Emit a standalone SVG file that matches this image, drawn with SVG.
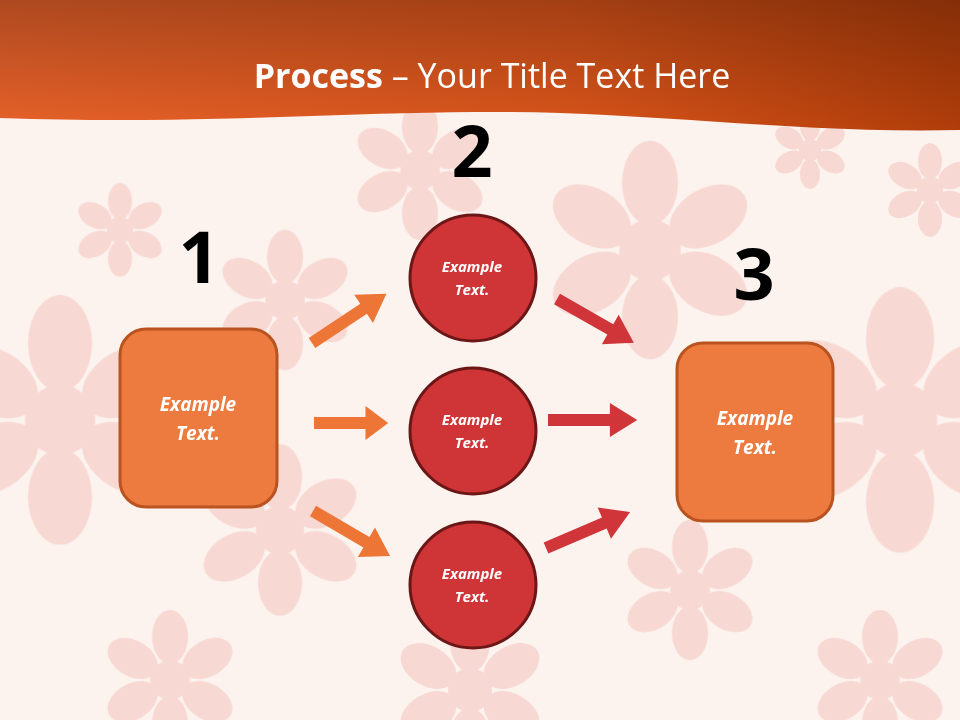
<svg xmlns="http://www.w3.org/2000/svg" xmlns:xlink="http://www.w3.org/1999/xlink" width="960" height="720" viewBox="0 0 960 720">
<style>
.box{fill:#ed7a3e;stroke:#b9531f;stroke-width:3}
.cir{fill:#cf3436;stroke:#6b1717;stroke-width:3}
.lbl{font-family:"Open Sans","Liberation Sans",sans-serif;font-weight:bold;font-style:italic;fill:#fff;text-anchor:middle}
.num{font-family:"Open Sans","Liberation Sans",sans-serif;font-weight:bold;font-size:72px;fill:#000;text-anchor:middle}
.fl{fill:#f3b3ab;opacity:0.42}
</style>
<defs>
<linearGradient id="hdr" x1="0" y1="0" x2="1" y2="0">
<stop offset="0" stop-color="#e8622a"/><stop offset="0.6" stop-color="#d9541a"/><stop offset="1" stop-color="#b03d0a"/>
</linearGradient>
<linearGradient id="hdrv" x1="0" y1="0" x2="0" y2="1">
<stop offset="0" stop-color="#000" stop-opacity="0.25"/><stop offset="1" stop-color="#000" stop-opacity="0"/>
</linearGradient>
<path id="arr" d="M0,-6 L52,-6 L52,-17 L75,0 L52,17 L52,6 L0,6 Z"/>
<g id="flw">
<circle r="22"/>
<g id="pet"><ellipse cx="0" cy="-48" rx="20" ry="30"/></g>
<use xlink:href="#pet" transform="rotate(60)"/><use xlink:href="#pet" transform="rotate(120)"/>
<use xlink:href="#pet" transform="rotate(180)"/><use xlink:href="#pet" transform="rotate(240)"/>
<use xlink:href="#pet" transform="rotate(300)"/>
</g>
</defs>
<rect width="960" height="720" fill="#fcf3ef"/>
<g class="fl">
<use xlink:href="#flw" transform="translate(60,420) scale(1.6)"/>
<use xlink:href="#flw" transform="translate(285,300) scale(0.9)"/>
<use xlink:href="#flw" transform="translate(120,230) scale(0.6)"/>
<use xlink:href="#flw" transform="translate(650,250) scale(1.4)"/>
<use xlink:href="#flw" transform="translate(810,150) scale(0.5)"/>
<use xlink:href="#flw" transform="translate(930,190) scale(0.6)"/>
<use xlink:href="#flw" transform="translate(900,420) scale(1.7)"/>
<use xlink:href="#flw" transform="translate(690,590) scale(0.9)"/>
<use xlink:href="#flw" transform="translate(280,530) scale(1.1)"/>
<use xlink:href="#flw" transform="translate(170,680) scale(0.9)"/>
<use xlink:href="#flw" transform="translate(470,690) scale(1.0)"/>
<use xlink:href="#flw" transform="translate(880,680) scale(0.9)"/>
<use xlink:href="#flw" transform="translate(420,170) scale(0.9)"/>
</g>
<path d="M0,0 H960 V130 C800,134 650,112 500,112 C330,112 200,125 0,118 Z" fill="url(#hdr)"/>
<path d="M0,0 H960 V130 C800,134 650,112 500,112 C330,112 200,125 0,118 Z" fill="url(#hdrv)"/>
<text x="492" y="88" text-anchor="middle" font-family="'Open Sans','Liberation Sans',sans-serif" font-size="34" fill="#fff"><tspan font-weight="bold">Process</tspan> – Your Title Text Here</text>
<g id="connectors">
<use xlink:href="#arr" fill="#ed7536" transform="translate(312,343) rotate(-33.5) scale(1.19,1)"/>
<use xlink:href="#arr" fill="#ed7536" transform="translate(314,423) scale(0.99,1)"/>
<use xlink:href="#arr" fill="#ed7536" transform="translate(313,511) rotate(30.3) scale(1.19,1)"/>
<use xlink:href="#arr" fill="#d0353a" transform="translate(557,299) rotate(29.7) scale(1.18,1)"/>
<use xlink:href="#arr" fill="#d0353a" transform="translate(548,420) scale(1.19,1)"/>
<use xlink:href="#arr" fill="#d0353a" transform="translate(546,548) rotate(-23.2) scale(1.22,1)"/>
</g>
<g id="num1"><text class="num" x="199" y="283">1</text></g>
<g id="num2"><text class="num" x="472" y="177">2</text></g>
<g id="num3"><text class="num" x="754" y="300">3</text></g>
<g id="node1"><rect class="box" x="120" y="329" width="157" height="178" rx="26"/>
<text class="lbl" font-size="19" x="198" y="411">Example</text><text class="lbl" font-size="19" x="198" y="440">Text.</text></g>
<g id="node5"><rect class="box" x="677" y="343" width="156" height="178" rx="26"/>
<text class="lbl" font-size="19" x="755" y="425">Example</text><text class="lbl" font-size="19" x="755" y="454">Text.</text></g>
<g id="node2"><circle class="cir" cx="473" cy="278" r="63"/>
<text class="lbl" font-size="15" x="472" y="272">Example</text><text class="lbl" font-size="15" x="472" y="295">Text.</text></g>
<g id="node3"><circle class="cir" cx="473" cy="431" r="63"/>
<text class="lbl" font-size="15" x="472" y="425">Example</text><text class="lbl" font-size="15" x="472" y="448">Text.</text></g>
<g id="node4"><circle class="cir" cx="473" cy="585" r="63"/>
<text class="lbl" font-size="15" x="472" y="579">Example</text><text class="lbl" font-size="15" x="472" y="602">Text.</text></g>
</svg>
